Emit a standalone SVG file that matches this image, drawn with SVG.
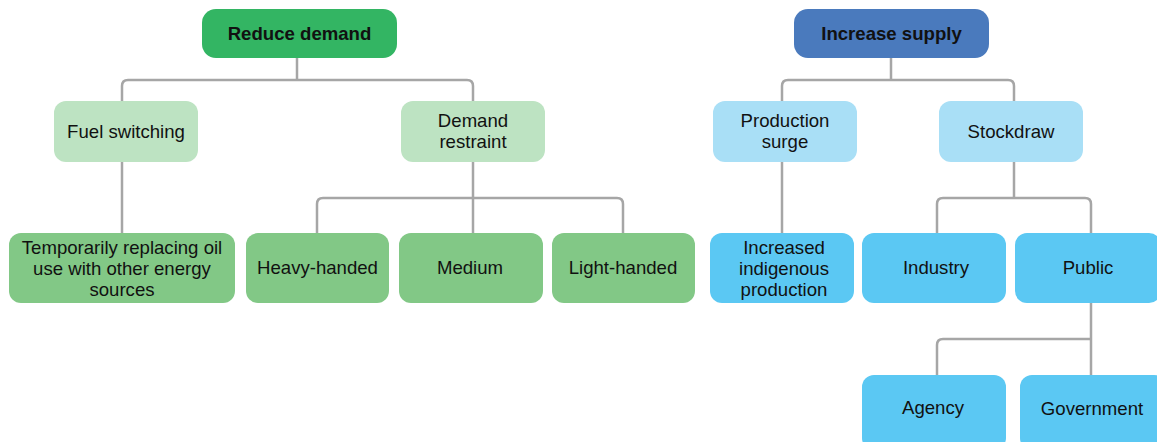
<svg xmlns="http://www.w3.org/2000/svg" width="1157" height="442" viewBox="0 0 1157 442">
<style>
text{font-family:"Liberation Sans",Arial,sans-serif;font-size:18.6px;fill:#111;text-anchor:middle}
.b{font-weight:bold}
.c{fill:none;stroke:#a6a6a6;stroke-width:2.5}
.g1{fill:#33b563}.g2{fill:#bde3c2}.g3{fill:#82c886}
.b1{fill:#4a7abd}.b2{fill:#a9dff6}.b3{fill:#5bc8f3}
</style>
<rect width="1157" height="442" fill="#fff"/>
<g id="connectors" class="c">
<path d="M297,58V80M122,101V86Q122,80 128,80H467Q473,80 473,86V101"/>
<path d="M122,162V233"/>
<path d="M473,162V233M317,233V204Q317,198 323,198H617Q623,198 623,204V233"/>
<path d="M891,58V80M782,101V86Q782,80 788,80H1008Q1014,80 1014,86V101"/>
<path d="M782,162V233"/>
<path d="M1014,162V198M937,233V204Q937,198 943,198H1085Q1091,198 1091,204V233"/>
<path d="M1091,303V375M937,375V345Q937,339 943,339H1091"/>
</g>
<g id="reduce-demand"><rect class="g1" x="202" y="9" width="195" height="49" rx="14"/><text class="b" x="299.5" y="40">Reduce demand</text></g>
<g id="fuel-switching"><rect class="g2" x="54" y="101" width="144" height="61" rx="12"/><text x="126" y="138">Fuel switching</text></g>
<g id="demand-restraint"><rect class="g2" x="401" y="101" width="144" height="61" rx="12"/><text x="473" y="127">Demand</text><text x="473" y="148">restraint</text></g>
<g id="temporarily"><rect class="g3" x="9" y="233" width="226" height="70" rx="12"/><text x="122" y="254">Temporarily replacing oil</text><text x="122" y="275">use with other energy</text><text x="122" y="296">sources</text></g>
<g id="heavy-handed"><rect class="g3" x="246" y="233" width="143" height="70" rx="12"/><text x="317.5" y="274">Heavy-handed</text></g>
<g id="medium"><rect class="g3" x="399" y="233" width="144" height="70" rx="12"/><text x="470" y="274">Medium</text></g>
<g id="light-handed"><rect class="g3" x="552" y="233" width="143" height="70" rx="12"/><text x="623" y="274">Light-handed</text></g>
<g id="increase-supply"><rect class="b1" x="794" y="9" width="195" height="49" rx="14"/><text class="b" x="891.5" y="40">Increase supply</text></g>
<g id="production-surge"><rect class="b2" x="713" y="101" width="144" height="61" rx="12"/><text x="785" y="127">Production</text><text x="785" y="148">surge</text></g>
<g id="stockdraw"><rect class="b2" x="939" y="101" width="144" height="61" rx="12"/><text x="1011" y="138">Stockdraw</text></g>
<g id="increased-indigenous"><rect class="b3" x="710" y="233" width="144" height="70" rx="12"/><text x="784" y="254">Increased</text><text x="784" y="275">indigenous</text><text x="784" y="296">production</text></g>
<g id="industry"><rect class="b3" x="862" y="233" width="144" height="70" rx="12"/><text x="936" y="274">Industry</text></g>
<g id="public"><rect class="b3" x="1015" y="233" width="146" height="70" rx="12"/><text x="1088" y="274">Public</text></g>
<g id="agency"><rect class="b3" x="862" y="375" width="144" height="75" rx="12"/><text x="933" y="414">Agency</text></g>
<g id="government"><rect class="b3" x="1020" y="375" width="146" height="75" rx="12"/><text x="1092" y="415">Government</text></g>
</svg>
